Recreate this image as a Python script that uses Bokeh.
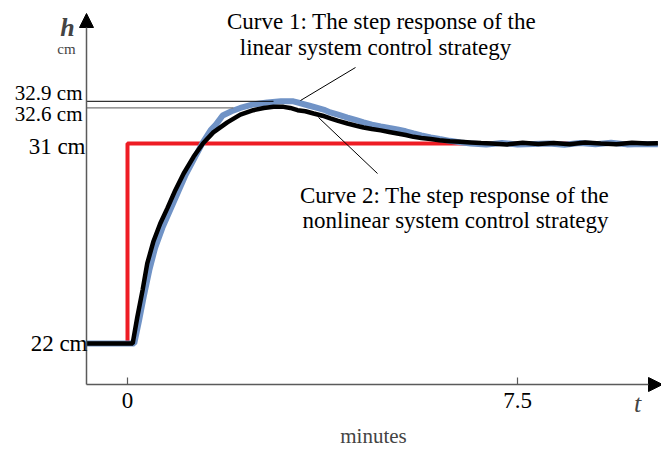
from bokeh.plotting import figure
from bokeh.models import Range1d, Label, Arrow, NormalHead
from bokeh.embed import file_html
from bokeh.resources import INLINE

# ---------------- data ----------------
# set-point step (red)
step_t = [0.0, 0.0, 10.2]
step_h = [22.0, 31.0, 31.0]

# Curve 1: linear system control strategy (blue)
blue_t = [-0.79, 0.13, 0.22, 0.32, 0.42, 0.53, 0.67, 0.82, 0.97, 1.12, 1.30, 1.45,
          1.60, 1.70, 1.83, 2.00, 2.17, 2.40, 2.69, 2.95, 3.19, 3.35, 3.50, 3.65,
          3.80, 3.90, 4.05, 4.23, 4.40, 4.54, 4.70, 4.87, 5.03, 5.19, 5.35, 5.50,
          5.65, 5.83, 6.00, 6.20, 6.40, 6.60, 6.90, 7.20, 7.50, 7.80, 8.10, 8.40,
          8.70, 9.00, 9.30, 9.60, 9.90, 10.20]
blue_h = [22.0, 22.0, 23.0, 24.2, 25.3, 26.3, 27.2, 28.0, 28.8, 29.6, 30.4, 31.05,
          31.6, 31.85, 32.26, 32.45, 32.6, 32.75, 32.85, 32.9, 32.9, 32.8, 32.7, 32.6,
          32.5, 32.4, 32.3, 32.17, 32.05, 31.95, 31.85, 31.77, 31.7, 31.63, 31.55, 31.45,
          31.36, 31.27, 31.2, 31.12, 31.05, 31.0, 30.95, 31.02, 30.96, 30.98, 31.0, 30.94,
          31.02, 30.97, 31.03, 30.96, 30.98, 30.97]

# Curve 2: nonlinear system control strategy (black)
black_t = [-0.79, 0.10, 0.19, 0.29, 0.38, 0.50, 0.63, 0.77, 0.92, 1.08, 1.27, 1.45,
           1.65, 1.92, 2.17, 2.42, 2.62, 2.81, 3.00, 3.13, 3.27, 3.42, 3.58, 3.75,
           3.90, 4.05, 4.23, 4.40, 4.54, 4.70, 4.87, 5.03, 5.19, 5.35, 5.50, 5.65,
           5.83, 6.00, 6.20, 6.40, 6.60, 6.80, 7.00, 7.30, 7.60, 7.90, 8.20, 8.50,
           8.80, 9.10, 9.40, 9.70, 10.00, 10.20]
black_h = [22.0, 22.0, 23.2, 24.4, 25.6, 26.6, 27.4, 28.1, 28.9, 29.65, 30.4, 31.0,
           31.5, 31.95, 32.3, 32.5, 32.6, 32.65, 32.65, 32.6, 32.5, 32.45, 32.35, 32.25,
           32.13, 32.02, 31.9, 31.8, 31.72, 31.65, 31.59, 31.52, 31.45, 31.38, 31.3, 31.25,
           31.2, 31.15, 31.1, 31.08, 31.05, 31.02, 31.0, 30.96, 31.03, 30.98, 31.02, 30.97,
           31.04, 31.0, 30.97, 31.03, 31.0, 31.01]

peak_vals = [32.9, 32.6]
peak_labels = ["32.9 cm", "32.6 cm"]
level_vals = [31.0, 22.0]
level_labels = ["31 cm", "22 cm"]
x_ticks = [0.0, 7.5]
x_tick_labels = ["0", "7.5"]

# ---------------- layout helpers (page px -> data) ----------------
def X(px):
    return (px - 127.0) / 52.0

def Y(py):
    return 31.0 + (143.0 - py) / 22.21

def YT(py):  # text baseline (empirical offset of rendered text)
    return Y(py - 8)

W, H = 661, 450
p = figure(width=W, height=H, output_backend="svg", toolbar_location=None,
           x_range=Range1d(X(0), X(W)), y_range=Range1d(Y(H), Y(0)),
           min_border=0, min_border_left=0, min_border_right=0,
           min_border_top=0, min_border_bottom=0)
p.axis.visible = False
p.xgrid.visible = False
p.ygrid.visible = False
p.outline_line_color = None
p.background_fill_color = "white"
p.border_fill_color = "white"

SERIF = "Liberation Serif"
AX = "#5a5a5a"

# axes with arrows
p.add_layout(Arrow(end=NormalHead(size=14, fill_color="black", line_color="black"),
                   x_start=X(86), y_start=Y(384), x_end=X(86), y_end=Y(13),
                   line_color=AX, line_width=1.5))
p.add_layout(Arrow(end=NormalHead(size=14, fill_color="black", line_color="black"),
                   x_start=X(86), y_start=Y(384), x_end=X(662), y_end=Y(384),
                   line_color=AX, line_width=1.5))
# x ticks
p.segment(x0=x_ticks, y0=[Y(384)] * len(x_ticks), x1=x_ticks, y1=[Y(377)] * len(x_ticks),
          line_color=AX, line_width=1.2)
for xt, lab in zip(x_ticks, x_tick_labels):
    p.add_layout(Label(x=xt, y=YT(408), text=lab, text_font=SERIF, text_font_size="23px",
                       text_align="center", text_baseline="alphabetic", text_color="black"))

# curves
p.line(step_t, step_h, line_color="#ee1c24", line_width=4)
p.line(blue_t, blue_h, line_color="#7093c6", line_width=6)
p.line(black_t, black_h, line_color="black", line_width=4.5)

# peak reference lines
p.segment(x0=[X(86)], y0=[peak_vals[0]], x1=[X(273)], y1=[peak_vals[0]], line_color="black", line_width=1)
p.segment(x0=[X(86)], y0=[peak_vals[1]], x1=[X(233)], y1=[peak_vals[1]], line_color="#777777", line_width=1.2)

# leader lines
p.segment(x0=[X(300)], y0=[Y(100)], x1=[X(355)], y1=[Y(67)], line_color="black", line_width=1)
p.segment(x0=[X(318)], y0=[Y(117)], x1=[X(377)], y1=[Y(173)], line_color="black", line_width=1)

# y labels
for v, lab, by in zip(peak_vals, peak_labels, [100, 121]):
    p.add_layout(Label(x=X(82), y=YT(by), text=lab, text_font=SERIF, text_font_size="21px",
                       text_align="right", text_baseline="alphabetic", text_color="black"))
for v, lab, by, rx in zip(level_vals, level_labels, [154, 351], [85, 87]):
    p.add_layout(Label(x=X(rx), y=YT(by), text=lab, text_font=SERIF, text_font_size="23px",
                       text_align="right", text_baseline="alphabetic", text_color="black"))

# axis titles
p.add_layout(Label(x=X(67), y=YT(35), text="h", text_font=SERIF, text_font_size="26px",
                   text_font_style="bold italic", text_align="center", text_baseline="alphabetic"))
p.add_layout(Label(x=X(66), y=YT(56), text="cm", text_font=SERIF, text_font_size="15px",
                   text_align="center", text_baseline="alphabetic"))
p.add_layout(Label(x=X(637), y=YT(411), text="t", text_font=SERIF, text_font_size="26px",
                   text_font_style="italic", text_align="center", text_baseline="alphabetic"))
p.add_layout(Label(x=X(373), y=YT(443), text="minutes", text_font=SERIF, text_font_size="21px",
                   text_align="center", text_baseline="alphabetic"))

# curve annotations
for txt, cx, by in [("Curve 1: The step response of the", 381, 29),
                    ("linear system control strategy", 375, 55),
                    ("Curve 2: The step response of the", 454, 203),
                    ("nonlinear system control strategy", 455, 228)]:
    p.add_layout(Label(x=X(cx), y=YT(by), text=txt, text_font=SERIF, text_font_size="23px",
                       text_align="center", text_baseline="alphabetic", text_color="black"))

open("out.html", "w").write(file_html(p, INLINE))
